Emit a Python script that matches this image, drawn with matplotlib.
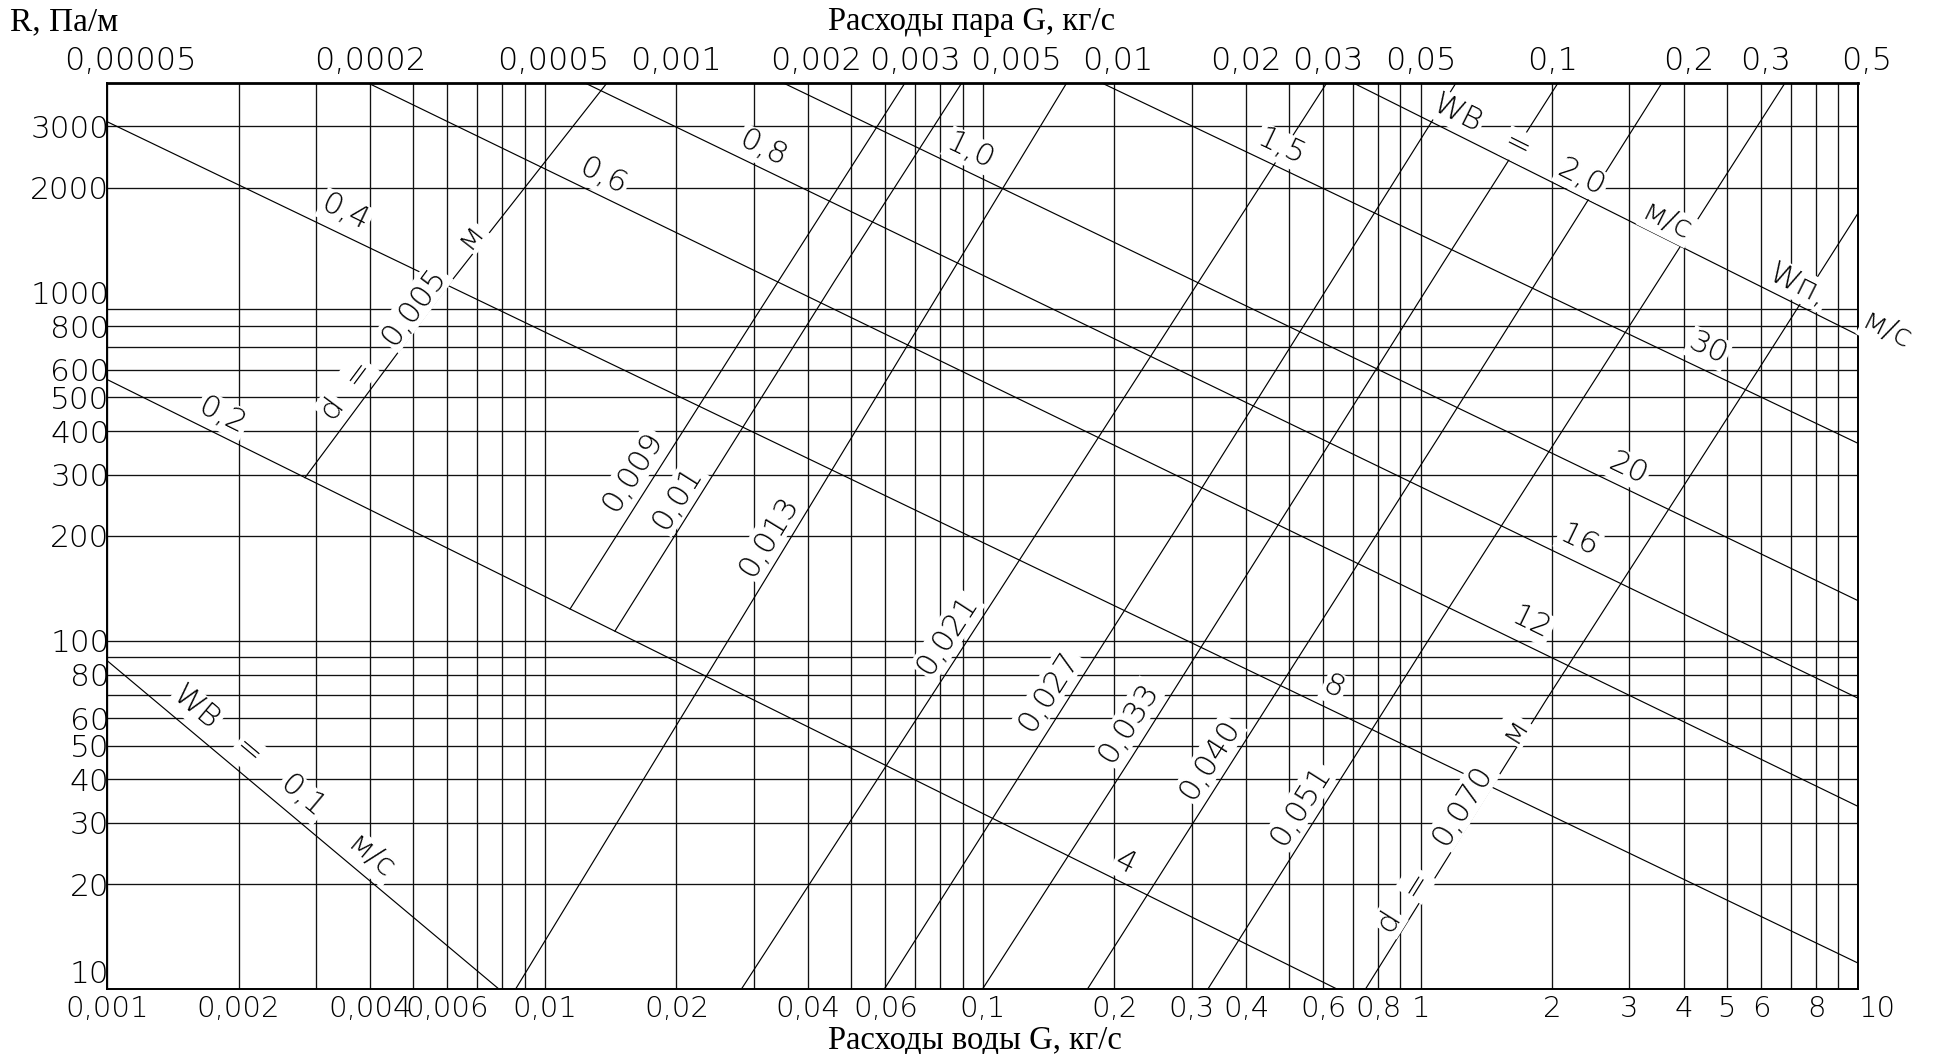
import numpy as np
import matplotlib
matplotlib.use("Agg")
import matplotlib.pyplot as plt
import matplotlib.font_manager as fm
import matplotlib.transforms as mtransforms
from matplotlib.ticker import LogLocator, NullFormatter, NullLocator

# ---------------- data ----------------
# bottom axis: water flow G, kg/s
water_ticks = [0.001, 0.002, 0.004, 0.006, 0.01, 0.02, 0.04, 0.06, 0.1, 0.2, 0.3, 0.4,
               0.6, 0.8, 1, 2, 3, 4, 5, 6, 8, 10]
water_labels = ["0,001", "0,002", "0,004", "0,006", "0,01", "0,02", "0,04", "0,06", "0,1",
                "0,2", "0,3", "0,4", "0,6", "0,8", "1", "2", "3", "4", "5", "6", "8", "10"]
# top axis: steam flow G, kg/s (same grid, steam = water / 20)
steam_ticks = [0.00005, 0.0002, 0.0005, 0.001, 0.002, 0.003, 0.005, 0.01, 0.02, 0.03,
               0.05, 0.1, 0.2, 0.3, 0.5]
steam_labels = ["0,00005", "0,0002", "0,0005", "0,001", "0,002", "0,003", "0,005", "0,01",
                "0,02", "0,03", "0,05", "0,1", "0,2", "0,3", "0,5"]
steam_to_water = 20
# left axis: R, Pa/m
r_ticks = [10, 20, 30, 40, 50, 60, 80, 100, 200, 300, 400, 500, 600, 800, 1000, 2000, 3000]
r_labels = [str(v) for v in r_ticks]
r_grid = [20, 30, 40, 50, 60, 70, 80, 90, 100, 200, 300, 400, 500, 600, 700, 800, 900,
          2000, 3000]

# velocity lines (water velocity, m/s) : start and end points (G water, R)
w_water = [0.1, 0.2, 0.4, 0.6, 0.8, 1.0, 1.5, 2.0]
vel_g0 = [0.001, 0.001, 0.001, 0.00395, 0.01236, 0.03507, 0.1871, 0.7022]
vel_r0 = [87.9, 563.6, 3100, 4000, 4000, 4000, 4000, 4000]
vel_g1 = [0.00786, 0.644, 10, 10, 10, 10, 10, 10]
vel_r1 = [10, 10, 11.85, 33.4, 68.3, 130.2, 368.5, 753.9]

# pipe diameter lines, d in m : points (G water, R)
diam = [0.005, 0.009, 0.01, 0.013, 0.021, 0.027, 0.033, 0.040, 0.051, 0.070]
diam_g = [[0.002836, 0.005975, 0.01388],
          [0.01143, 0.02818, 0.06649],
          [0.01447, 0.04603, 0.08961],
          [0.008587, 0.03697, 0.1556],
          [0.02815, 0.1096, 0.6106],
          [0.05967, 0.2725, 1.205],
          [0.1, 0.2194, 1.125, 2.06],
          [0.1736, 1.125, 3.558],
          [0.327, 1.125, 6.796],
          [0.7489, 1.934, 5.834, 10]]
diam_r = [[294, 1037, 4000],
          [123.4, 737.4, 4000],
          [106.6, 1084, 4000],
          [10, 203.2, 4000],
          [10, 139.7, 4000],
          [10, 203.2, 4000],
          [10, 46.43, 1213, 4000],
          [10, 402.2, 4000],
          [10, 116.9, 4000],
          [10, 67.5, 586.2, 1699]]

# labels along lines: (text, line index, G of anchor on line, offset from line in px)
vel_label_specs = [
    ("WВ", 0, 0.001492, 21), ("=", 0, 0.001963, 20), ("0,1", 0, 0.002604, 21), ("м/с", 0, 0.003769, 18),
    ("0,2", 1, 0.001758, 19), ("4", 1, 0.2027, 19),
    ("0,4", 2, 0.003339, 21), ("8", 2, 0.6051, 21),
    ("0,6", 3, 0.01303, 18), ("12", 3, 1.705, 22),
    ("0,8", 4, 0.03022, 18), ("16", 4, 2.194, 20),
    ("1,0", 5, 0.08974, 20), ("20", 5, 2.853, 19),
    ("1,5", 6, 0.4604, 19), ("30", 6, 4.323, 21),
    ("WВ", 7, 1.161, 19), ("=", 7, 1.600, 17), ("2,0", 7, 2.241, 17), ("м/с", 7, 3.522, 16),
    ("Wп,", 7, 6.976, 18), ("м/с", 7, 11.19, 16),
]
diam_label_specs = [
    ("d", 0, 0.003556, 20), ("=", 0, 0.004077, 20), ("0,005", 0, 0.005341, 15), ("м", 0, 0.007155, 13),
    ("0,009", 1, 0.01742, 21), ("0,01", 2, 0.02173, 18), ("0,013", 3, 0.03546, 20),
    ("0,021", 4, 0.09063, 20), ("0,027", 5, 0.155, 21), ("0,033", 6, 0.2366, 21),
    ("0,040", 7, 0.3603, 20), ("0,051", 8, 0.5813, 20),
    ("d", 9, 0.9101, 16), ("=", 9, 1.034, 13), ("0,070", 9, 1.334, 15), ("м", 9, 1.723, 11),
]
# small horizontal nudges (px) of top tick labels as printed on the chart
steam_label_nudge = [24, 0, 9, 0, 8, 30, 33, 3, 0, 4, 0, 0, 4, 4, 8]

# ---------------- fonts ----------------
def pick_light():
    best = None
    for f in fm.fontManager.ttflist:
        if f.name == "DejaVu Sans" and f.style == "normal":
            w = f.weight if isinstance(f.weight, int) else fm.weight_dict.get(f.weight, 400)
            if w < 400 and (best is None or w < best):
                best = w
    return best if best is not None else "normal"

CAD = dict(family="DejaVu Sans", weight=pick_light())
SERIF = dict(family=["Liberation Serif", "DejaVu Serif"])
LINE = "#111111"
TICK_FS = 23
LEFT_FS = 22.5
BOTTOM_FS = 21
LABEL_FS = 22.5

# ---------------- figure ----------------
fig = plt.figure(figsize=(19.43, 10.54), dpi=100)
ax = fig.add_axes([0.0549, 0.0617, 0.9016, 0.8596])
ax.set_xscale("log")
ax.set_yscale("log")
ax.set_xlim(0.001, 10)
ax.set_ylim(10, 4000)

ax.set_xticks(water_ticks, water_labels)
ax.xaxis.set_minor_locator(LogLocator(base=10, subs=np.arange(1, 10), numticks=60))
ax.xaxis.set_minor_formatter(NullFormatter())
ax.grid(True, which="both", axis="x", color=LINE, lw=0.95, zorder=1)
for r in r_grid:
    ax.axhline(r, color=LINE, lw=0.95, zorder=1)
ax.set_yticks(r_ticks, r_labels)
ax.yaxis.set_minor_locator(NullLocator())
ax.tick_params(axis="x", which="both", length=0, pad=4, labelsize=BOTTOM_FS)
ax.tick_params(axis="y", which="both", length=0, pad=-2, labelsize=LEFT_FS)
for lab in ax.get_xticklabels() + ax.get_yticklabels():
    lab.set_family(CAD["family"])
    lab.set_weight(CAD["weight"])
ax.get_yticklabels()[0].set_verticalalignment("bottom")
ax.get_xticklabels()[-1].set_horizontalalignment("left")
for s in ax.spines.values():
    s.set_linewidth(1.4)
    s.set_color("black")
ax.spines["top"].set_linewidth(2.0)

# top (steam) labels
top_tf = mtransforms.blended_transform_factory(ax.transData, ax.transAxes)
for v, lab, nud in zip(steam_ticks, steam_labels, steam_label_nudge):
    ax.annotate(lab, (v * steam_to_water, 1.0), xycoords=top_tf, xytext=(nud, 7),
                textcoords="offset pixels", ha="center", va="bottom", fontsize=TICK_FS,
                annotation_clip=False, **CAD)

# velocity lines
for g0, r0, g1, r1 in zip(vel_g0, vel_r0, vel_g1, vel_r1):
    ax.plot([g0, g1], [r0, r1], color="black", lw=0.85, zorder=2, solid_capstyle="butt")

# diameter lines
for gs, rs in zip(diam_g, diam_r):
    ax.plot(gs, rs, color="black", lw=0.85, zorder=2)


def on_line(gs, rs, g):
    lg = np.log10(gs)
    lr = np.log10(rs)
    x = np.log10(g)
    i = int(np.searchsorted(lg, x)) - 1
    i = min(max(i, 0), len(lg) - 2)
    t = (x - lg[i]) / (lg[i + 1] - lg[i])
    r = 10 ** (lr[i] + t * (lr[i + 1] - lr[i]))
    p0 = ax.transData.transform((gs[i], rs[i]))
    p1 = ax.transData.transform((gs[i + 1], rs[i + 1]))
    d = p1 - p0
    ang = np.degrees(np.arctan2(d[1], d[0]))
    n = np.array([-d[1], d[0]]) / np.hypot(d[0], d[1])
    return r, ang, n


def put_label(txt, gs, rs, g, off):
    r, ang, n = on_line(gs, rs, g)
    ax.annotate(txt, (g, r), xytext=(n[0] * off, n[1] * off), textcoords="offset pixels",
                rotation=ang, rotation_mode="anchor", ha="center", va="center",
                fontsize=LABEL_FS, zorder=4, annotation_clip=False,
                bbox=dict(boxstyle="square,pad=0.05", fc="white", ec="none"), **CAD)


for txt, k, g, off in vel_label_specs:
    put_label(txt, [vel_g0[k], vel_g1[k]], [vel_r0[k], vel_r1[k]], g, off)
for txt, k, g, off in diam_label_specs:
    put_label(txt, diam_g[k], diam_r[k], g, off)

# titles
fig.text(10 / 1943, 1 - 22 / 1054, "R, Па/м", ha="left", va="center",
         fontsize=24, **SERIF)
fig.text(972 / 1943, 1 - 22 / 1054, "Расходы пара G, кг/с", ha="center", va="center",
         fontsize=23.5, **SERIF)
fig.text(975 / 1943, 1 - 1040 / 1054, "Расходы воды G, кг/с", ha="center", va="center",
         fontsize=23.5, **SERIF)

fig.savefig("out.png", dpi=100, facecolor="white")
